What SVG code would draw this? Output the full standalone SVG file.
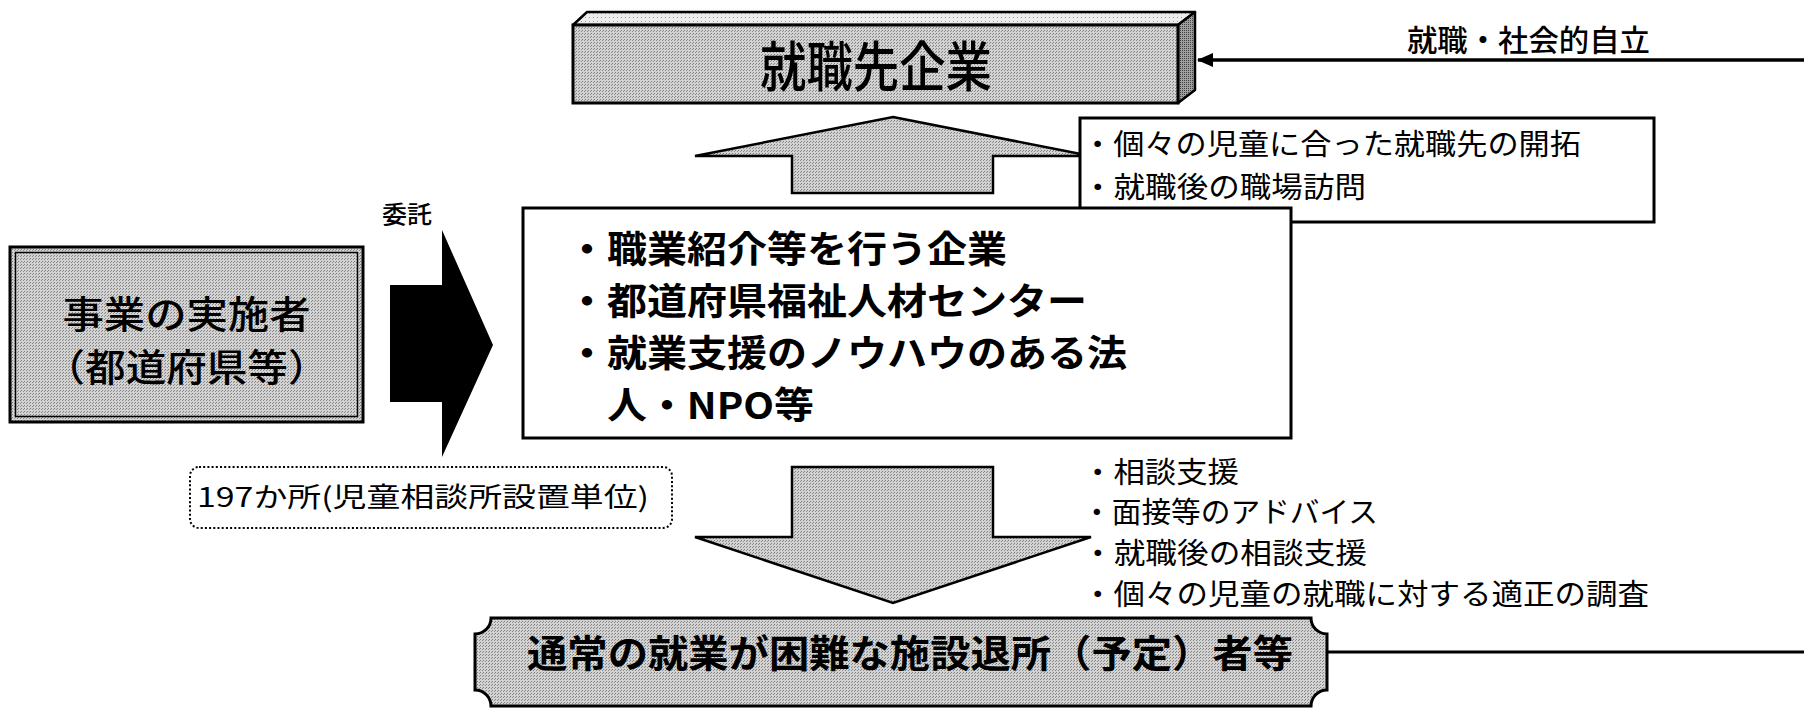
<svg xmlns="http://www.w3.org/2000/svg" width="1804" height="709" viewBox="0 0 1804 709">
<defs>
<pattern id="tone" width="3" height="3" patternUnits="userSpaceOnUse">
<rect width="3" height="3" fill="#d2d2d2"/>
<rect x="0" y="0" width="1" height="1" fill="#808080"/>
<rect x="2" y="1" width="1" height="1" fill="#8c8c8c"/>
</pattern>
<pattern id="toneLight" width="4" height="4" patternUnits="userSpaceOnUse">
<rect width="4" height="4" fill="#ececec"/>
<rect x="1" y="1" width="1" height="1" fill="#9a9a9a"/>
</pattern>
<pattern id="toneDark" width="2" height="2" patternUnits="userSpaceOnUse">
<rect width="2" height="2" fill="#a0a0a0"/>
<rect x="0" y="0" width="1" height="1" fill="#404040"/>
</pattern>
<marker id="ah" viewBox="0 0 16 14" refX="15" refY="7" markerWidth="16" markerHeight="14" markerUnits="userSpaceOnUse" orient="auto">
<path d="M0,0 L16,7 L0,14 Z" fill="#000"/>
</marker>
<style>
text{font-family:"Noto Sans CJK JP","Noto Sans CJK SC",sans-serif;fill:#000}
.b{font-weight:bold}
.m{font-weight:500}
.box{fill:#fff;stroke:#000;stroke-width:3}
.gray{fill:url(#tone);stroke:#000;stroke-width:3;stroke-linejoin:miter}
.arr{fill:url(#tone);stroke:#000;stroke-width:2.5;stroke-linejoin:miter}
.ln{fill:none;stroke:#000}
</style>
</defs>
<rect width="1804" height="709" fill="#fff"/>

<g id="connectors">
<path class="arr" d="M893 117 L1091 156 L993 156 L993 193 L792 193 L792 156 L695 156 Z"/>
<path class="arr" d="M792 467 L993 467 L993 537 L1091 537 L893 603 L695 537 L792 537 Z"/>
<path d="M390 285 L442 285 L442 230 L493 345 L442 457 L442 402 L390 402 Z" fill="#000"/>
<text class="m" x="382" y="223" font-size="24" textLength="50" lengthAdjust="spacingAndGlyphs">委託</text>
<line class="ln" x1="1804" y1="60" x2="1198" y2="60" stroke-width="3.5" marker-end="url(#ah)"/>
<text class="m" x="1407" y="51" font-size="30" textLength="243" lengthAdjust="spacingAndGlyphs">就職・社会的自立</text>
<line class="ln" x1="1327" y1="652" x2="1804" y2="652" stroke-width="3"/>
</g>

<g id="node-employer">
<polygon points="573,25 587,12 1195,12 1178,25" fill="url(#toneLight)" stroke="#000" stroke-width="2.5" stroke-linejoin="round"/>
<polygon points="1178,25 1195,12 1195,90 1178,103" fill="url(#toneDark)" stroke="#000" stroke-width="2.5" stroke-linejoin="round"/>
<rect class="gray" x="573" y="25" width="605" height="78"/>
<text class="m" x="760" y="87" font-size="54" textLength="232" lengthAdjust="spacingAndGlyphs">就職先企業</text>
</g>

<g id="node-upper-tasks">
<rect class="box" x="1080" y="118" width="574" height="104" stroke-width="2.5"/>
<text font-size="29"><tspan x="1082" y="155" textLength="499" lengthAdjust="spacingAndGlyphs">・個々の児童に合った就職先の開拓</tspan><tspan x="1082" y="198" textLength="284" lengthAdjust="spacingAndGlyphs">・就職後の職場訪問</tspan></text>
</g>

<g id="node-implementer">
<rect x="10" y="247" width="353" height="175" fill="url(#tone)" stroke="#000" stroke-width="3"/>
<rect x="15.5" y="252.5" width="342" height="164" fill="none" stroke="#000" stroke-width="1.5"/>
<text class="m" font-size="37.5" text-anchor="middle"><tspan x="186.5" y="328" textLength="248" lengthAdjust="spacingAndGlyphs">事業の実施者</tspan><tspan x="186.5" y="381" textLength="284" lengthAdjust="spacingAndGlyphs">（都道府県等）</tspan></text>
</g>

<g id="node-agencies">
<rect class="box" x="523" y="208" width="768" height="230"/>
<text class="b" font-size="37"><tspan x="567" y="263" textLength="440" lengthAdjust="spacingAndGlyphs">・職業紹介等を行う企業</tspan><tspan x="567" y="315" textLength="520" lengthAdjust="spacingAndGlyphs">・都道府県福祉人材センター</tspan><tspan x="567" y="367" textLength="560" lengthAdjust="spacingAndGlyphs">・就業支援のノウハウのある法</tspan><tspan x="607" y="419" textLength="207" lengthAdjust="spacingAndGlyphs">人・NPO等</tspan></text>
</g>

<g id="node-count">
<rect x="190" y="467" width="482" height="61" rx="9" ry="9" fill="#fff" stroke="#000" stroke-width="2" stroke-dasharray="2 2.2"/>
<text x="197" y="507" font-size="27" textLength="452" lengthAdjust="spacingAndGlyphs">197か所(児童相談所設置単位)</text>
</g>

<g id="node-lower-tasks">
<text font-size="29"><tspan x="1082" y="483" textLength="157" lengthAdjust="spacingAndGlyphs">・相談支援</tspan><tspan x="1082" y="523" textLength="296" lengthAdjust="spacingAndGlyphs">・面接等のアドバイス</tspan><tspan x="1082" y="564" textLength="285" lengthAdjust="spacingAndGlyphs">・就職後の相談支援</tspan><tspan x="1082" y="605" textLength="567" lengthAdjust="spacingAndGlyphs">・個々の児童の就職に対する適正の調査</tspan></text>
</g>

<g id="node-target">
<path class="gray" d="M491 618 H1311 A16 16 0 0 0 1327 634 V690 A16 16 0 0 0 1311 706 H491 A16 16 0 0 0 475 690 V634 A16 16 0 0 0 491 618 Z"/>
<text class="b" x="527" y="667" font-size="38" textLength="766" lengthAdjust="spacingAndGlyphs">通常の就業が困難な施設退所（予定）者等</text>
</g>
</svg>
